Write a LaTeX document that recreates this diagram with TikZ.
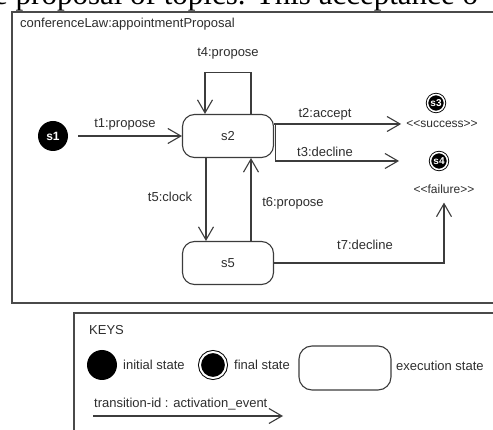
\documentclass[tikz,border=0pt]{standalone}
\usepackage{fontspec}
\setmainfont{Liberation Sans}
\newfontfamily\bodyserif{Liberation Serif}
\usetikzlibrary{arrows.meta,calc}

\definecolor{inkline}{HTML}{3C3C3C}
\definecolor{inktext}{HTML}{2E2E2E}
\definecolor{framegray}{HTML}{4A4A4A}

\tikzset{
  lbl/.style={font=\fontsize{13}{15}\selectfont, text=inktext, inner sep=0pt},
  smalllbl/.style={font=\fontsize{12}{14}\selectfont, text=inktext, inner sep=0pt},
  initstate/.style={circle, fill=black, minimum size=30pt, inner sep=0pt,
    font=\bfseries\fontsize{12}{14}\selectfont, text=white},
  finalstate/.style={circle, fill=black, draw=black, line width=0.9pt,
    double=white, double distance=1.5pt, minimum size=17pt, inner sep=0pt,
    font=\bfseries\fontsize{10}{12}\selectfont, text=white},
  execstate/.style={draw=inkline, line width=1.1pt, rounded corners=12pt,
    minimum width=91pt, minimum height=43pt, inner sep=0pt,
    font=\fontsize{13}{15}\selectfont, text=inktext},
  trans/.style={draw=inkline, line width=1.1pt,
    -{Straight Barb[length=13pt,width=15pt,line width=1.1pt]}},
  frame/.style={draw=framegray, line width=1.2pt}
}

\begin{document}
\begin{tikzpicture}[x=1pt,y=-1pt]
  \useasboundingbox (0,0) rectangle (493,430);
  \clip (0,0) rectangle (493,430);
  \fill[white] (0,0) rectangle (493,430);

  % running text of the page above the figure
  \node[anchor=base west, inner sep=0pt, font=\bodyserif\fontsize{31}{34}\selectfont]
    (pagetext) at (-6,5) {e proposal of topics. This acceptance o};

  % protocol frame
  \draw[frame] (12,12) rectangle (520,303);
  \node[lbl, anchor=west] (title) at (20,24) {conferenceLaw:appointmentProposal};

  % states
  \node[initstate] (s1) at (53,136) {s1};
  \node[execstate] (s2) at (228,136) {s2};
  \node[execstate] (s5) at (228,263) {s5};
  \node[finalstate] (s3) at (436,103) {s3};
  \node[finalstate] (s4) at (439,161) {s4};
  \node[smalllbl] (succ) at (442,124) {{<}{<}success{>}{>}};
  \node[smalllbl] (fail) at (444,189) {{<}{<}failure{>}{>}};

  % transitions
  \draw[trans, shorten <=10pt] (s1) -- (s2);
  \draw[trans] (s2.east |- succ) -- ([xshift=-5pt]succ.west);
  \draw[trans] ([xshift=1pt]s2.east |- succ) |- ([xshift=-31pt]s4.west);
  \draw[trans] ([xshift=23pt]s2.north) -- ++(0,-41) -| ([xshift=-23pt]s2.north);
  \draw[trans] ([xshift=-22pt]s2.south) -- ([xshift=-22pt]s5.north);
  \draw[trans] ([xshift=23pt]s5.north) -- ([xshift=23pt]s2.south);
  \draw[trans] (s5.east) -| ([yshift=-9pt]fail.south);

  % transition labels
  \node[lbl] (l4) at (228,53) {t4:propose};
  \node[lbl] (l1) at (125,124) {t1:propose};
  \node[lbl] (l2) at (325,114) {t2:accept};
  \node[lbl] (l3) at (325,152) {t3:decline};
  \node[lbl] (l5) at (170,197) {t5:clock};
  \node[lbl] (l6) at (293,203) {t6:propose};
  \node[lbl] (l7) at (365,245) {t7:decline};

  % legend
  \draw[frame] (74,313) rectangle (520,450);
  \node[lbl, anchor=west] (keys) at (89,330) {KEYS};
  \node[initstate] (kinit) at (102,365) {};
  \node[lbl, anchor=west] (kinitl) at (123,365) {initial state};
  \node[finalstate, minimum size=26pt, double distance=2pt, line width=1pt] (kfinal) at (213,365) {};
  \node[lbl, anchor=west] (kfinall) at (234,365) {final state};
  \node[execstate, minimum width=92pt, minimum height=44pt, rounded corners=13pt] (kexec) at (345,368) {};
  \node[lbl, anchor=west] (kexecl) at (396,366) {execution state};
  \node[lbl, anchor=west] (ktrans) at (94,404) {transition-id : activation\_event};
  \coordinate (ka) at (93,416);
  \coordinate (kb) at (283,416);
  \draw[trans] (ka) -- (kb);
\end{tikzpicture}
\end{document}
